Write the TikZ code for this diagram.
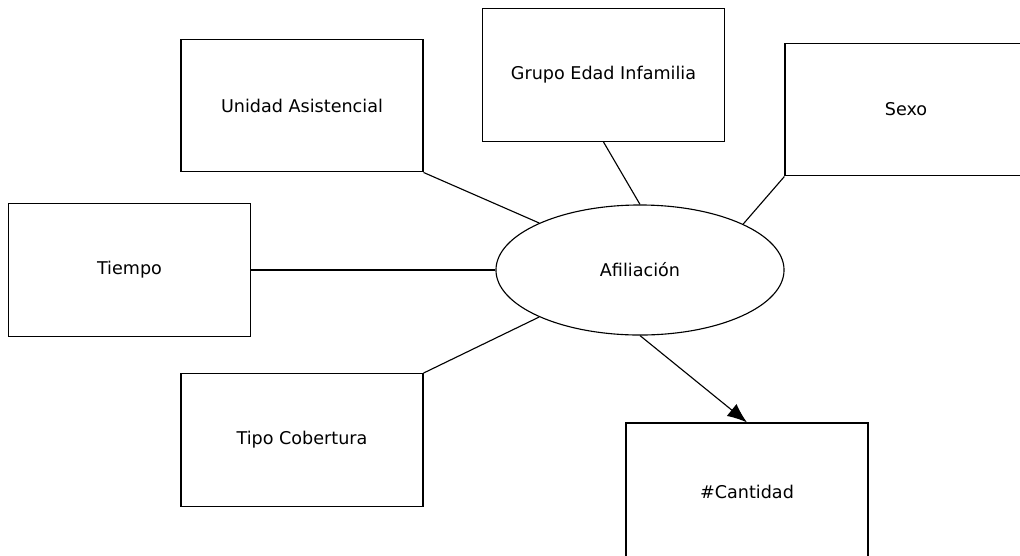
\documentclass[tikz,border=0pt]{standalone}
\usepackage{fontspec}
\setmainfont{DejaVu Sans}
\usetikzlibrary{arrows.meta,shapes.geometric}

\tikzset{
  dimbox/.style={draw, thick, minimum width=6.05cm, minimum height=3.32cm, inner sep=0pt, font=\fontsize{12.5}{15}\selectfont},
  facto/.style={draw, thick, ellipse, minimum width=7.2cm, minimum height=3.25cm, inner sep=0pt, font=\fontsize{12.5}{15}\selectfont}
}

\begin{document}
\begin{tikzpicture}[x=0.025cm, y=-0.025cm]
                \useasboundingbox (0,0) rectangle (1020,555);
                \clip (0,0) rectangle (1020,555);
                % Draw the fact and the dimensions
                \node[facto] (afil) at (640,270) {Afiliación};
                \node[dimbox] (unidad) at (302,105.5) {Unidad Asistencial};
                \node[dimbox] (grupo) at (603.5,75) {Grupo Edad Infamilia};
                \node[dimbox] (sexo) at (906,109.5) {Sexo};
                \node[dimbox] (tiempo) at (129.5,270) {Tiempo};
                \node[dimbox] (tipo) at (302,440) {Tipo Cobertura};
                \node[dimbox, minimum height=3.45cm] (cant) at (747,492) {\#Cantidad};
                % Draw the links
                \draw[thick] (unidad.south east) -- (afil.155.5);
                \draw[thick] (grupo.south) -- (afil.north);
                \draw[thick] (sexo.south west) -- (afil.24.5);
                \draw[thick] (tiempo.east) -- (afil.west);
                \draw[thick] (tipo.north east) -- (afil.205);
                \draw[thick, -{Latex[length=14pt,width=11pt]}] (afil.south) -- (cant.north);
            \end{tikzpicture}
\end{document}
